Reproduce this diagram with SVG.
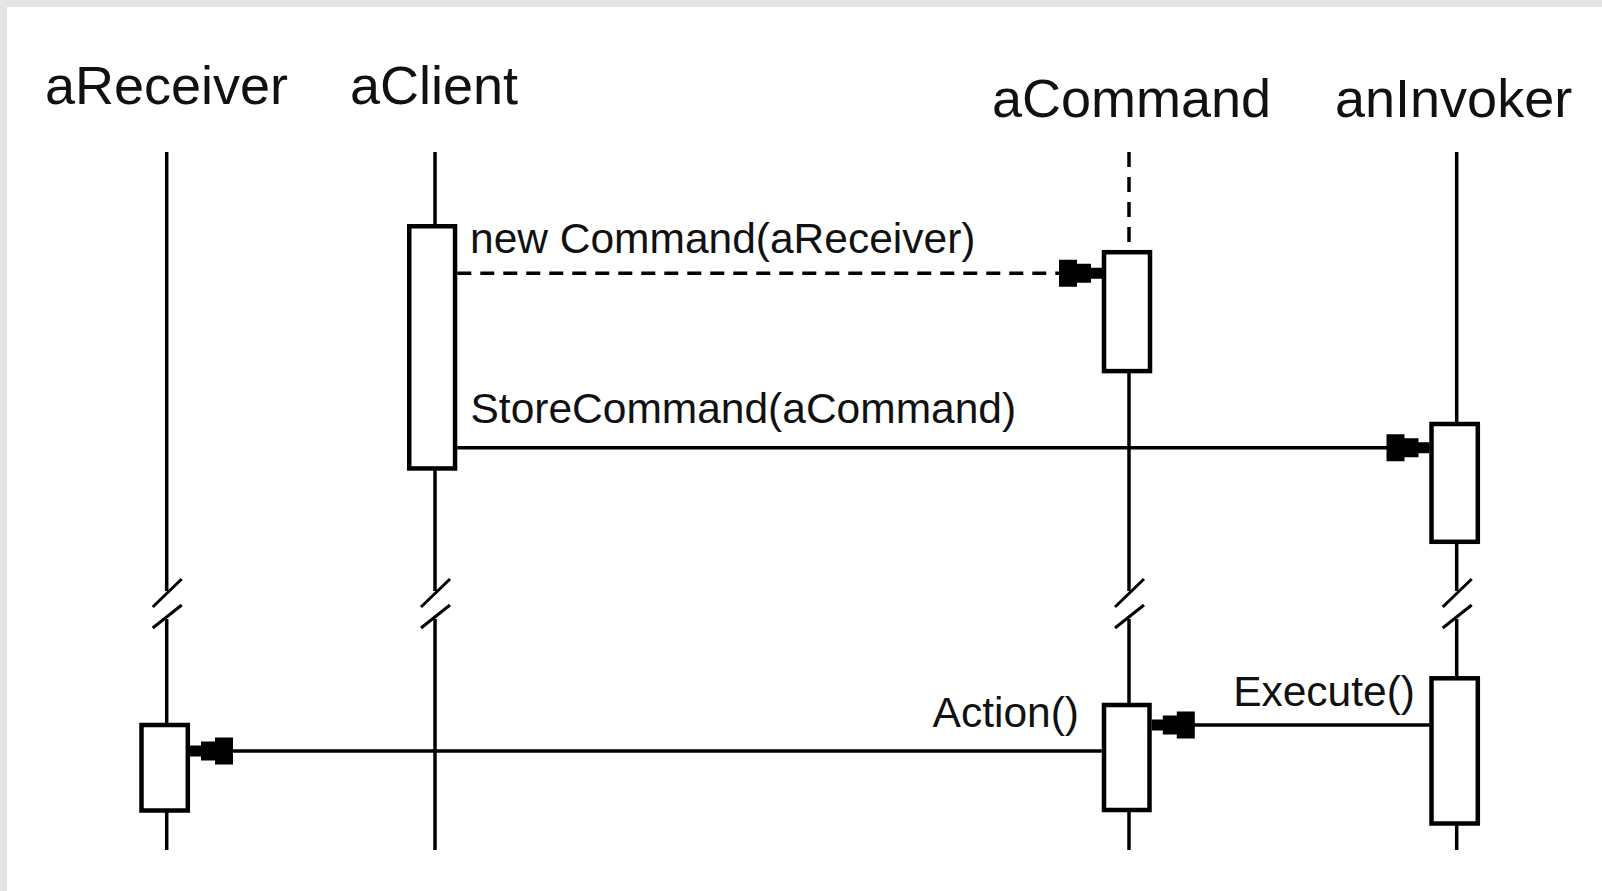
<svg xmlns="http://www.w3.org/2000/svg" xmlns:xlink="http://www.w3.org/1999/xlink" width="1602" height="891" viewBox="0 0 1602 891">
  <style>
    .title { font-family: "Liberation Sans", Arial, Helvetica, sans-serif; font-size: 54px; fill: #111; }
    .label { font-family: "Liberation Sans", Arial, Helvetica, sans-serif; font-size: 42.5px; fill: #111; }
    .life { stroke: #000; stroke-width: 3.5; fill: none; }
    .lifedash { stroke: #000; stroke-width: 3.5; fill: none; stroke-dasharray: 15 10; }
    .act { fill: #fff; stroke: #000; stroke-width: 4.5; }
    .msg { stroke: #000; stroke-width: 3.5; fill: none; marker-end: url(#head); }
    .msgdash { stroke-dasharray: 14 9; }
    .brk { stroke: #000; stroke-width: 3; fill: none; }
  </style>
  <defs>
    <marker id="head" markerUnits="userSpaceOnUse" markerWidth="44" markerHeight="28" refX="43" refY="14" orient="auto" overflow="visible">
      <path d="M0,0.5 H18 V4.5 H32 V8.5 H43 V19.5 H32 V23.5 H18 V27.5 H0 Z" fill="#000"/>
    </marker>
    <g id="brk">
      <line class="brk" x1="-14" y1="607" x2="15" y2="579"/>
      <line class="brk" x1="-14" y1="628" x2="15" y2="605"/>
    </g>
  </defs>

  <rect x="0" y="0" width="1602" height="891" fill="#e4e4e4"/>
  <rect x="7" y="7" width="1595" height="884" fill="#fff"/>

  <g id="aReceiver">
    <text class="title" x="45" y="104">aReceiver</text>
    <line class="life" x1="166.7" y1="152" x2="166.7" y2="591"/>
    <line class="life" x1="166.7" y1="619" x2="166.7" y2="850"/>
    <use xlink:href="#brk" x="166.7"/>
    <rect class="act" x="141.5" y="725" width="46.3" height="85.5"/>
  </g>

  <g id="aClient">
    <text class="title" x="350" y="104">aClient</text>
    <line class="life" x1="435" y1="152" x2="435" y2="591"/>
    <line class="life" x1="435" y1="619" x2="435" y2="850"/>
    <use xlink:href="#brk" x="435"/>
    <rect class="act" x="409.25" y="226.25" width="45.8" height="242.2"/>
  </g>

  <g id="aCommand">
    <text class="title" x="992" y="117">aCommand</text>
    <line class="lifedash" x1="1129" y1="152" x2="1129" y2="252"/>
    <line class="life" x1="1129" y1="252" x2="1129" y2="591"/>
    <line class="life" x1="1129" y1="619" x2="1129" y2="850"/>
    <use xlink:href="#brk" x="1129"/>
    <rect class="act" x="1104" y="252.2" width="46" height="118.9"/>
    <rect class="act" x="1104" y="705" width="45.5" height="105"/>
  </g>

  <g id="anInvoker">
    <text class="title" x="1335" y="117">anInvoker</text>
    <line class="life" x1="1456.7" y1="152" x2="1456.7" y2="591"/>
    <line class="life" x1="1456.7" y1="619" x2="1456.7" y2="850"/>
    <use xlink:href="#brk" x="1456.7"/>
    <rect class="act" x="1431.5" y="424" width="46.3" height="117.8"/>
    <rect class="act" x="1431.5" y="678.3" width="46.3" height="145.2"/>
  </g>

  <g id="connectors">
    <line class="msg msgdash" x1="457.3" y1="273.3" x2="1102" y2="273.3"/>
    <text class="label" x="470" y="252.5">new Command(aReceiver)</text>
    <line class="msg" x1="457.3" y1="447.7" x2="1429.5" y2="447.7"/>
    <text class="label" x="470.5" y="422.5">StoreCommand(aCommand)</text>
    <line class="msg" x1="1429.5" y1="725" x2="1151.8" y2="725"/>
    <text class="label" x="1415" y="706" text-anchor="end">Execute()</text>
    <line class="msg" x1="1101.8" y1="751" x2="190" y2="751"/>
    <text class="label" x="1079" y="726.5" text-anchor="end">Action()</text>
  </g>
</svg>
